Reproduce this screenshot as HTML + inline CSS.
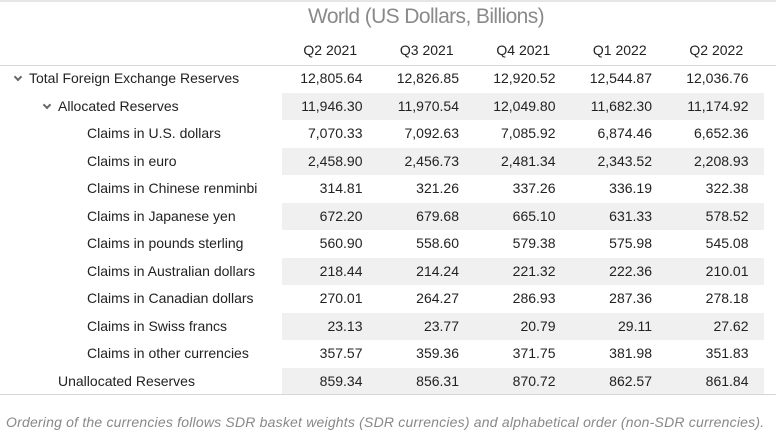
<!DOCTYPE html>
<html><head><meta charset="utf-8"><style>
body{margin:0;width:776px;height:443px;background:#fff;font-family:"Liberation Sans",sans-serif;color:#222;position:relative;overflow:hidden}
.topline{position:absolute;left:0;top:0;width:776px;height:2px;background:#e6e6e6}
.title{position:absolute;left:308px;top:5px;font-size:21px;color:#8a8a8a;letter-spacing:-0.6px;white-space:nowrap}
.hdr{position:absolute;top:42px;font-size:14px;text-align:center;width:96.5px}
.hline{position:absolute;left:0;width:776px;height:1px;background:#d6d6d6}
.row{position:absolute;left:0;width:776px;height:27.5px;font-size:14px}
.shade{position:absolute;left:282px;width:482px;top:0;height:27.5px;background:#f0f0f0}
.lbl{position:absolute;top:5px;white-space:nowrap}
.val{position:absolute;top:5px;width:96.5px;text-align:right;box-sizing:border-box;padding-right:16px}
.chev{display:inline-block;width:4px;height:4px;border-right:2px solid #666;border-bottom:2px solid #666;transform:rotate(45deg);margin-right:8px;position:relative;top:-3px}
.note{position:absolute;left:6px;top:414px;font-size:14px;font-style:italic;color:#888;white-space:nowrap;letter-spacing:0.2px}
</style></head><body>
<div class="topline"></div>
<div class="title">World (US Dollars, Billions)</div>
<div id="hdrs"></div>
<div class="hline" style="top:65px"></div>
<div id="rows"></div>
<div class="hline" style="top:394px"></div>
<div class="note">Ordering of the currencies follows SDR basket weights (SDR currencies) and alphabetical order (non-SDR currencies).</div>
<script>
const periods=["Q2 2021","Q3 2021","Q4 2021","Q1 2022","Q2 2022"];
const labels=["Total Foreign Exchange Reserves","Allocated Reserves","Claims in U.S. dollars","Claims in euro","Claims in Chinese renminbi","Claims in Japanese yen","Claims in pounds sterling","Claims in Australian dollars","Claims in Canadian dollars","Claims in Swiss francs","Claims in other currencies","Unallocated Reserves"];
const levels=[0,1,2,2,2,2,2,2,2,2,2,1];
const expandable=[true,true,false,false,false,false,false,false,false,false,false,false];
const values=[
["12,805.64","12,826.85","12,920.52","12,544.87","12,036.76"],
["11,946.30","11,970.54","12,049.80","11,682.30","11,174.92"],
["7,070.33","7,092.63","7,085.92","6,874.46","6,652.36"],
["2,458.90","2,456.73","2,481.34","2,343.52","2,208.93"],
["314.81","321.26","337.26","336.19","322.38"],
["672.20","679.68","665.10","631.33","578.52"],
["560.90","558.60","579.38","575.98","545.08"],
["218.44","214.24","221.32","222.36","210.01"],
["270.01","264.27","286.93","287.36","278.18"],
["23.13","23.77","20.79","29.11","27.62"],
["357.57","359.36","371.75","381.98","351.83"],
["859.34","856.31","870.72","862.57","861.84"]];
const colX=i=>282+i*96.5;
const H=document.getElementById('hdrs');
periods.forEach((p,i)=>{const d=document.createElement('div');d.className='hdr';d.style.left=colX(i)+'px';d.textContent=p;


H.appendChild(d);});
const R=document.getElementById('rows');
labels.forEach((l,r)=>{const row=document.createElement('div');row.className='row';row.style.top=(65+r*27.5)+'px';


if(r%2===1){const s=document.createElement('div');s.className='shade';


row.appendChild(s);}
const lb=document.createElement('div');lb.className='lbl';
const x=levels[r]===0?15:levels[r]===1?(expandable[r]?44:58):87;lb.style.left=x+'px';


if(expandable[r]){const c=document.createElement('span');c.className='chev';


lb.appendChild(c);}
lb.appendChild(document.createTextNode(l));row.appendChild(lb);
values[r].forEach((v,i)=>{const c=document.createElement('div');c.className='val';c.style.left=colX(i)+'px';c.textContent=v;


row.appendChild(c);});
R.appendChild(row);});
</script>
</body></html>
